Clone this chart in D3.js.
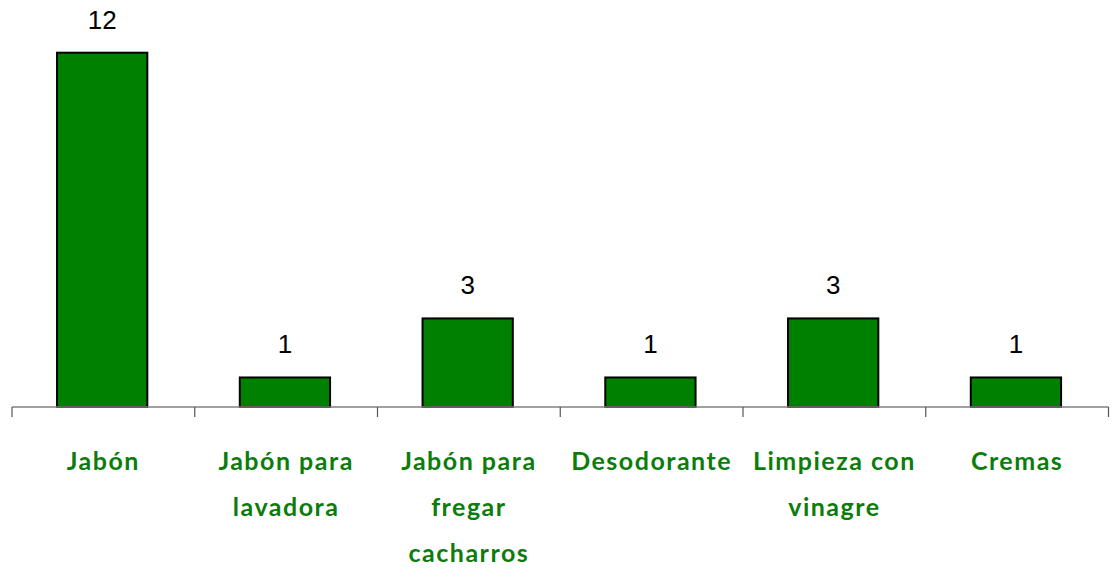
<!DOCTYPE html>
<html>
<head>
<meta charset="utf-8">
<script src="https://cdn.jsdelivr.net/npm/d3@7"></script>
<style>
  html, body { margin: 0; padding: 0; background: #fff; }
  svg { display: block; }
</style>
</head>
<body>
<svg id="chart" width="1112" height="568"></svg>
<script>
// Productos elaborados y número de respuestas
const categories = ["Jabón", "Jabón para lavadora", "Jabón para fregar cacharros", "Desodorante", "Limpieza con vinagre", "Cremas"];
const values = [12, 1, 3, 1, 3, 1];

const width = 1112, height = 568;
const margin = { left: 12, right: 3.5, top: 0, bottom: 0 };
const baseY = 407;     // axis line
const topY = 52.7;     // top of the value 12

const svg = d3.select("#chart");

const x = d3.scaleBand()
  .domain(categories)
  .range([margin.left, width - margin.right])
  .paddingInner(0)
  .paddingOuter(0);

const y = d3.scaleLinear()
  .domain([0, 12])
  .range([baseY, topY]);

const barW = x.bandwidth() * 0.494;
const barShift = -1.2;

// bars
svg.append("g")
  .selectAll("rect")
  .data(categories)
  .join("rect")
  .attr("x", (d) => x(d) + (x.bandwidth() - barW) / 2 + barShift)
  .attr("y", (d, i) => y(values[i]))
  .attr("width", barW)
  .attr("height", (d, i) => baseY - y(values[i]))
  .attr("fill", "#008000")
  .attr("stroke", "#000")
  .attr("stroke-width", 2);

// value labels
svg.append("g")
  .selectAll("text")
  .data(categories)
  .join("text")
  .attr("x", (d) => x(d) + x.bandwidth() / 2 + barShift)
  .attr("y", (d, i) => y(values[i]) - 24)
  .attr("text-anchor", "middle")
  .attr("font-family", "Arial, 'Liberation Sans', sans-serif")
  .attr("font-size", 26)
  .attr("fill", "#000")
  .text((d, i) => values[i]);

// category axis: line and tick marks between categories
const axis = svg.append("g");
axis.append("line")
  .attr("x1", margin.left).attr("x2", width - margin.right)
  .attr("y1", baseY).attr("y2", baseY)
  .attr("stroke", "#808080").attr("stroke-width", 1.5);

const tickXs = categories.map((d) => x(d)).concat([x(categories[categories.length - 1]) + x.bandwidth()]);
axis.selectAll("line.tick")
  .data(tickXs)
  .join("line")
  .attr("class", "tick")
  .attr("x1", (d) => d).attr("x2", (d) => d)
  .attr("y1", baseY).attr("y2", baseY + 10)
  .attr("stroke", "#555").attr("stroke-width", 1.2);

// category labels, wrapped to the band width
const labelFont = "'Comic Sans MS', 'Lato', 'Open Sans', sans-serif";
const labels = svg.append("g")
  .selectAll("text")
  .data(categories)
  .join("text")
  .attr("x", (d) => x(d) + x.bandwidth() / 2)
  .attr("y", baseY + 63)
  .attr("text-anchor", "middle")
  .attr("font-family", labelFont)
  .attr("font-weight", "bold")
  .attr("font-size", 25)
  .attr("letter-spacing", 1.5)
  .attr("fill", "#0b7d0b");

labels.each(function (d) {
  const text = d3.select(this);
  const words = d.split(" ");
  const maxW = x.bandwidth() - 4;
  const cx = x(d) + x.bandwidth() / 2;
  let line = [];
  let tspan = text.append("tspan").attr("x", cx).attr("dy", 0);
  words.forEach((w) => {
    line.push(w);
    tspan.text(line.join(" "));
    if (tspan.node().getComputedTextLength() > maxW && line.length > 1) {
      line.pop();
      tspan.text(line.join(" "));
      line = [w];
      tspan = text.append("tspan").attr("x", cx).attr("dy", 46).text(w);
    }
  });
});
</script>
</body>
</html>
